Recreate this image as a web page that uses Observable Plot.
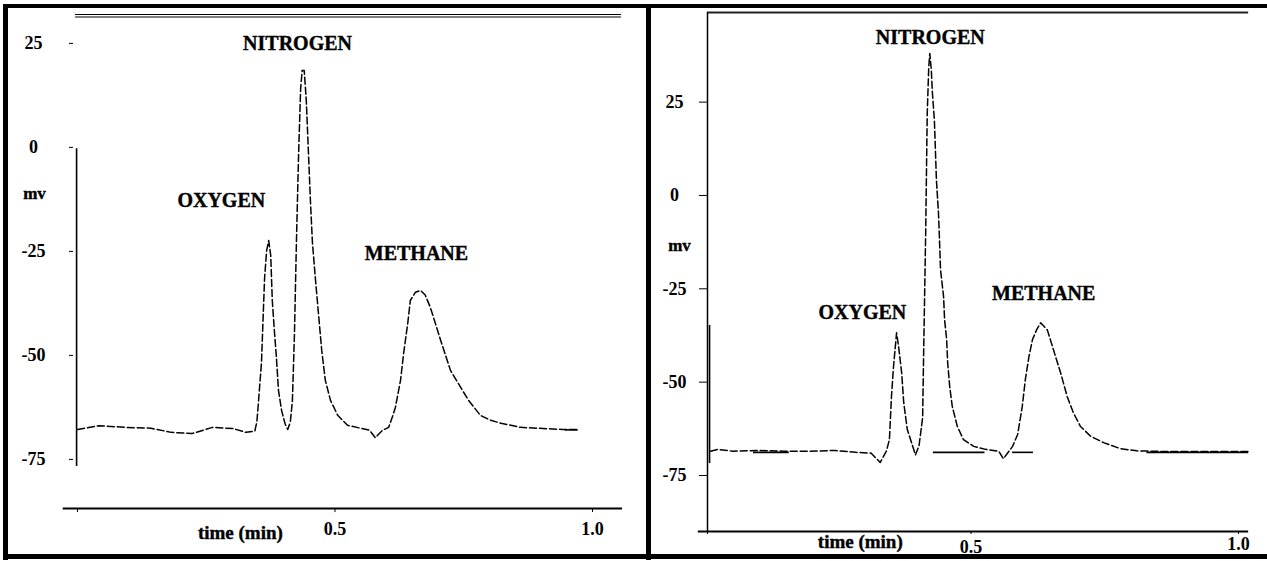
<!DOCTYPE html>
<html><head><meta charset="utf-8">
<script src="https://cdn.jsdelivr.net/npm/d3@7"></script>
<script src="https://cdn.jsdelivr.net/npm/@observablehq/plot@0.6"></script>
<style>
body{margin:0;background:#fff;}
#wrap{position:relative;width:1267px;height:561px;overflow:hidden;background:#fff;}
#wrap svg{position:absolute;top:0;}
.bar{position:absolute;background:#000;}
</style></head><body><div id="wrap"></div>
<script>
// ---- data ----
const leftTime = [0.008,0.05,0.1,0.15,0.19,0.23,0.27,0.31,0.335,0.352,0.356,0.359,0.365,0.371,0.375,0.379,0.383,0.386,0.39,0.394,0.398,0.404,0.411,0.416,0.421,0.425,0.429,0.433,0.437,0.441,0.444,0.448,0.452,0.456,0.46,0.464,0.47,0.476,0.482,0.489,0.499,0.513,0.532,0.557,0.575,0.586,0.6,0.612,0.62,0.625,0.635,0.641,0.649,0.654,0.664,0.674,0.683,0.693,0.713,0.732,0.746,0.767,0.79,0.81,0.83,0.868,0.9,0.95,0.98];
const leftMv = [-67.8,-66.9,-67.3,-67.5,-68.5,-68.8,-67.3,-67.6,-68.5,-68.2,-66,-61.5,-51.7,-31.5,-24.8,-22.4,-26,-36.8,-44,-50.5,-58.4,-63.2,-66.5,-67.8,-66,-61,-45,-22,-2,14,18.5,18.5,11.3,-0.7,-12.7,-23,-32,-40.4,-48.8,-56,-60.8,-64.4,-66.8,-67.5,-68,-69.8,-68,-67.3,-64.5,-62.5,-56,-49.5,-42.3,-36.8,-34.8,-34.4,-35.5,-38.5,-46.4,-53.6,-56.5,-60.8,-64.4,-65.6,-66.3,-67.3,-67.5,-67.8,-67.8];
const leftSpike = [0.006, -0.3, -76.7];          // time, top mv, bottom mv
const leftBaseSegments = [[0.955, 0.98]];
const leftBaseMv = -67.9;

const rightTime = [0.006,0.02,0.05,0.1,0.15,0.2,0.25,0.29,0.32,0.338,0.35,0.356,0.36,0.364,0.37,0.374,0.38,0.384,0.391,0.4,0.407,0.414,0.421,0.423,0.427,0.43,0.433,0.435,0.438,0.44,0.444,0.446,0.448,0.452,0.454,0.456,0.462,0.464,0.468,0.47,0.474,0.479,0.489,0.501,0.521,0.544,0.57,0.579,0.59,0.597,0.607,0.616,0.622,0.629,0.636,0.644,0.652,0.665,0.677,0.691,0.704,0.716,0.73,0.75,0.775,0.808,0.84,0.9,0.95,1.0,1.059];
const rightMv = [-68.5,-68,-68.5,-68.3,-68.5,-68.5,-68.3,-68.8,-69,-71.5,-68.5,-65.4,-53.9,-45.9,-36.8,-40.5,-47.5,-55.5,-62.7,-66.5,-69.5,-67,-59.5,-42,-9.8,22,34.4,38,33.6,27.7,20.2,12.2,4.1,-4.7,-11.9,-19.9,-27.1,-33.3,-38.6,-44.8,-51.2,-56.5,-61.9,-65.4,-67.2,-68,-68.5,-70.5,-68.5,-67.2,-64,-56.5,-49.3,-43.2,-38.6,-36,-34.1,-36,-41.3,-47.5,-53.9,-58.2,-61.9,-64.5,-66.2,-67.8,-68.4,-68.6,-68.6,-68.6,-68.6];
const rightSpike = [0.004, -34.8, -71.8];
const rightBaseSegments = [[0.09, 0.16], [0.442, 0.543], [0.597, 0.638], [0.86, 1.059]];
const rightBaseMv = -68.8;

const yTicks = [25, 0, -25, -50, -75];
const xTicks = [0.5, 1.0];
const peakNames = ["NITROGEN", "OXYGEN", "METHANE"];
const leftPeakTime = [0.435, 0.287, 0.666];
const leftPeakMv = [25, -12.8, -25.5];
const rightPeakTime = [0.436, 0.303, 0.658];
const rightPeakMv = [42.3, -31.3, -26.3];
const yLabel = "mv";
const xLabel = "time (min)";
const leftDomain = [-86.8, 31.7];
const rightDomain = [-90, 49];

// ---- drawing ----
const serif = "'Liberation Serif','Times New Roman',serif";
const fmt1 = d => d.toFixed(1);
const baseStyle = {fontFamily: serif, fontSize: "18px", fontWeight: "bold", color: "#000", background: "transparent", overflow: "visible"};
const lineStyle = {stroke: "#000", strokeWidth: 1.5, strokeDasharray: "7,3", curve: "linear"};
const heavy = {fontWeight: "bold", fill: "#000", stroke: "#000", strokeWidth: 0.4};

const left = Plot.plot({
  width: 647, height: 561,
  marginLeft: 73, marginRight: 59, marginTop: 15, marginBottom: 53,
  x: {domain: [0, 1]},
  y: {domain: leftDomain},
  style: baseStyle,
  marks: [
    Plot.ruleY([leftDomain[1]], {x1: 0.004, x2: 1.064, stroke: "#000", strokeWidth: 1, dy: -1}),
    Plot.ruleY([leftDomain[1]], {x1: 0.004, x2: 1.064, stroke: "#000", strokeWidth: 1, dy: 1.5}),
    Plot.ruleY([leftDomain[0]], {x1: -0.02, x2: 1.066, stroke: "#000", strokeWidth: 2}),
    Plot.axisX([0, ...xTicks], {tickSize: 4, tickPadding: 10, dx: 4, tickFormat: d => d === 0 ? "" : fmt1(d), fontSize: 18, fontWeight: "bold", letterSpacing: 1}),
    Plot.axisY(yTicks, {tickSize: 4, tickPadding: 36, textAnchor: "middle", tickFormat: d => String(d), fontSize: 18, fontWeight: "bold"}),
    Plot.text([yLabel], {frameAnchor: "left", y: [-11.1], dx: -39, textAnchor: "middle", fontSize: 17, ...heavy}),
    Plot.text([xLabel], {x: [0.324], frameAnchor: "bottom", dy: 30, fontSize: 19, letterSpacing: -0.5, ...heavy}),
    Plot.ruleX([leftSpike], {x: d => d[0], y1: d => d[1], y2: d => d[2], stroke: "#000", strokeWidth: 1.6}),
    Plot.ruleY(leftBaseSegments, {y: leftBaseMv, x1: d => d[0], x2: d => d[1], stroke: "#000", strokeWidth: 1.6}),
    Plot.line(leftTime, {x: leftTime, y: leftMv, ...lineStyle}),
    Plot.text(peakNames, {x: leftPeakTime, y: leftPeakMv, fontSize: 20, letterSpacing: 0.5, ...heavy})
  ]
});
left.style.left = "0px";

const right = Plot.plot({
  width: 620, height: 561,
  marginLeft: 60, marginRight: 49, marginTop: 12, marginBottom: 30,
  x: {domain: [0, 1]},
  y: {domain: rightDomain},
  style: baseStyle,
  marks: [
    Plot.ruleY([rightDomain[1]], {x1: 0, x2: 1.059, stroke: "#222", strokeWidth: 2.2}),
    Plot.ruleX([0], {y1: rightDomain[0], y2: rightDomain[1], stroke: "#000", strokeWidth: 1.5}),
    Plot.ruleY([rightDomain[0]], {x1: -0.018, x2: 1.059, stroke: "#000", strokeWidth: 2}),
    Plot.axisX([0], {tickSize: 3, tickFormat: () => ""}),
    Plot.axisX([xTicks[0]], {tickSize: 3, tickPadding: 6, dx: 8, tickFormat: fmt1, fontSize: 18, fontWeight: "bold", letterSpacing: 1}),
    Plot.axisX([xTicks[1]], {tickSize: 3, tickPadding: 3, dx: 20, tickFormat: fmt1, fontSize: 18, fontWeight: "bold", letterSpacing: 1}),
    Plot.axisY(yTicks, {tickSize: 8, tickPadding: 25, textAnchor: "middle", tickFormat: d => String(d), fontSize: 18, fontWeight: "bold"}),
    Plot.text([yLabel], {frameAnchor: "left", y: [-13.4], dx: -28, textAnchor: "middle", fontSize: 17, ...heavy}),
    Plot.text([xLabel], {x: [0.299], frameAnchor: "bottom", dy: 16, fontSize: 19, letterSpacing: -0.5, ...heavy}),
    Plot.ruleX([rightSpike], {x: d => d[0], y1: d => d[1], y2: d => d[2], stroke: "#000", strokeWidth: 1.6}),
    Plot.ruleY(rightBaseSegments, {y: rightBaseMv, x1: d => d[0], x2: d => d[1], stroke: "#000", strokeWidth: 1.6}),
    Plot.line(rightTime, {x: rightTime, y: rightMv, ...lineStyle}),
    Plot.text(peakNames, {x: rightPeakTime, y: rightPeakMv, fontSize: 20, letterSpacing: 0.5, ...heavy})
  ]
});
right.style.left = "647px";

const wrap = document.getElementById("wrap");
wrap.appendChild(left);
wrap.appendChild(right);
// outer frame and divider
[["4px","3px","1264px","4px"],["4px","3px","5px","556px"],["554px","3px","1264px","5px"],["4px","646px","5px","556px"]].forEach(([t,l,w,h]) => {
  const b = document.createElement("div");
  b.className = "bar";
  Object.assign(b.style, {top: t, left: l, width: w, height: h});
  wrap.appendChild(b);
});
</script></body></html>
